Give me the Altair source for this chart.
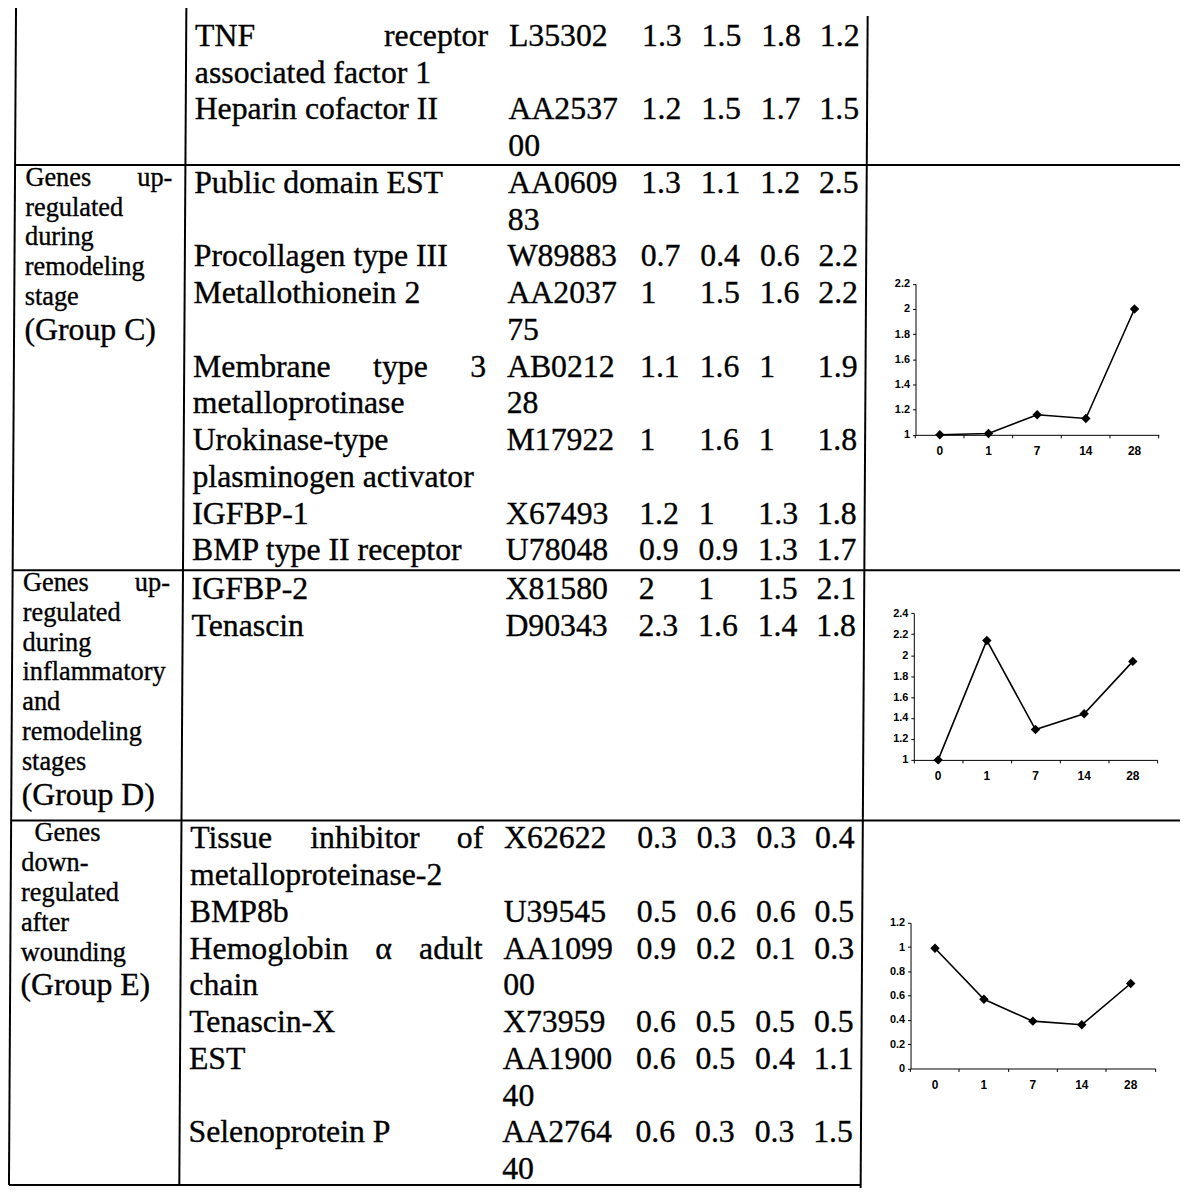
import altair as alt
import pandas as pd

# ---------------- data ----------------
top_gene = [["TNF receptor", "associated factor 1"], ["Heparin cofactor II"]]
top_acc = [["L35302"], ["AA2537", "00"]]
top_val = [[1.3, 1.5, 1.8, 1.2], [1.2, 1.5, 1.7, 1.5]]

c_label = ["Genes up-", "regulated", "during", "remodeling", "stage"]
c_group = "(Group C)"
c_gene = [["Public domain EST"], ["Procollagen type III"], ["Metallothionein 2"],
          ["Membrane type 3", "metalloprotinase"],
          ["Urokinase-type", "plasminogen activator"], ["IGFBP-1"],
          ["BMP type II receptor"]]
c_acc = [["AA0609", "83"], ["W89883"], ["AA2037", "75"], ["AB0212", "28"],
         ["M17922"], ["X67493"], ["U78048"]]
c_val = [[1.3, 1.1, 1.2, 2.5], [0.7, 0.4, 0.6, 2.2], [1, 1.5, 1.6, 2.2],
         [1.1, 1.6, 1, 1.9], [1, 1.6, 1, 1.8], [1.2, 1, 1.3, 1.8],
         [0.9, 0.9, 1.3, 1.7]]

d_label = ["Genes up-", "regulated", "during", "inflammatory", "and",
           "remodeling", "stages"]
d_group = "(Group D)"
d_gene = [["IGFBP-2"], ["Tenascin"]]
d_acc = [["X81580"], ["D90343"]]
d_val = [[2, 1, 1.5, 2.1], [2.3, 1.6, 1.4, 1.8]]

e_label = ["  Genes", "down-", "regulated", "after", "wounding"]
e_group = "(Group E)"
e_gene = [["Tissue inhibitor of", "metalloproteinase-2"], ["BMP8b"],
          ["Hemoglobin \u03b1 adult", "chain"], ["Tenascin-X"], ["EST"],
          ["Selenoprotein P"]]
e_acc = [["X62622"], ["U39545"], ["AA1099", "00"], ["X73959"],
         ["AA1900", "40"], ["AA2764", "40"]]
e_val = [[0.3, 0.3, 0.3, 0.4], [0.5, 0.6, 0.6, 0.5], [0.9, 0.2, 0.1, 0.3],
         [0.6, 0.5, 0.5, 0.5], [0.6, 0.5, 0.4, 1.1], [0.6, 0.3, 0.3, 1.5]]

days = ["0", "1", "7", "14", "28"]
c_profile = [1.0, 1.01, 1.16, 1.13, 2.0]
d_profile = [1.0, 2.14, 1.29, 1.44, 1.94]
e_profile = [0.99, 0.57, 0.39, 0.36, 0.70]
c_ticks = [1, 1.2, 1.4, 1.6, 1.8, 2, 2.2]
d_ticks = [1, 1.2, 1.4, 1.6, 1.8, 2, 2.2, 2.4]
e_ticks = [0, 0.2, 0.4, 0.6, 0.8, 1, 1.2]

# ---------------- layout (page pixels) ----------------
W, H = 1180, 1184
OFF = 8
MAIN_FS = 32
SMALL_FS = 26.5
PITCH = 37
SMALL_PITCH = 30
GROUP_GAP = 35
SKEW = -0.006          # the scan is slightly rotated

LBL_L, LBL_R = 23, 171
GENE_L, GENE_R = 193, 488
ACC_L = 509
VAL_L = [643, 703, 763, 822]
BORDERS = [12.5, 184, 870]
RIGHT_END = 1188
RULE_Y = [162, 570, 822]
BOTTOM_Y = 1189

TW = {}
for ch, w in zip("abcdefghijklmnopqrstuvwxyz",
                 [444, 500, 444, 500, 444, 333, 500, 500, 278, 278, 500, 278, 778,
                  500, 500, 500, 500, 333, 389, 278, 500, 500, 722, 500, 500, 444]):
    TW[ch] = w
for ch, w in zip("ABCDEFGHIJKLMNOPQRSTUVWXYZ",
                 [722, 667, 667, 722, 611, 556, 722, 722, 333, 389, 722, 611, 889,
                  722, 722, 556, 722, 667, 556, 611, 722, 722, 944, 722, 722, 611]):
    TW[ch] = w
TW.update({"-": 333, " ": 250, "(": 333, ")": 333, ".": 250, "\u03b1": 530})


def tw(s, fs):
    return sum(TW.get(ch, 500) for ch in s) * fs / 1000.0


def sx(x, y):
    return x + SKEW * (y - 600)


words = []


def place_line(text, left, right, y, fs, justify):
    lead = len(text) - len(text.lstrip(" "))
    text = text.strip()
    parts = text.split(" ")
    x0 = sx(left, y) + lead * 250 * fs / 1000.0
    if justify and len(parts) > 1:
        xr = sx(right, y)
        widths = [tw(p, fs) for p in parts]
        gap = (xr - x0 - sum(widths)) / (len(parts) - 1)
        x = x0
        for i, (p, wd) in enumerate(zip(parts, widths)):
            if i == len(parts) - 1:
                words.append(dict(x=xr, y=y, text=p, fs=fs, align="right"))
            else:
                words.append(dict(x=x, y=y, text=p, fs=fs, align="left"))
            x += wd + gap
    else:
        words.append(dict(x=x0, y=y, text=text, fs=fs, align="left"))


sections = [
    (42, None, None, top_gene, top_acc, top_val, None),
    (RULE_Y[0] + 28, c_label, c_group, c_gene, c_acc, c_val, RULE_Y[0] + 21),
    (RULE_Y[1] + 29, d_label, d_group, d_gene, d_acc, d_val, RULE_Y[1] + 21),
    (RULE_Y[2] + 28, e_label, e_group, e_gene, e_acc, e_val, RULE_Y[2] + 21),
]
for first, label, group, genes, accs, vals, lstart in sections:
    y = first
    for g, a, v in zip(genes, accs, vals):
        for i, line in enumerate(g):
            place_line(line, GENE_L, GENE_R, y + i * PITCH, MAIN_FS, i < len(g) - 1)
        for i, line in enumerate(a):
            place_line(line, ACC_L, None, y + i * PITCH, MAIN_FS, False)
        for j, val in enumerate(v):
            place_line(f"{val:g}", VAL_L[j], None, y, MAIN_FS, False)
        y += max(len(g), len(a)) * PITCH
    if label:
        ly = lstart
        for i, line in enumerate(label):
            place_line(line, LBL_L, LBL_R, ly, SMALL_FS, i < len(label) - 1)
            ly += SMALL_PITCH
        place_line(group, LBL_L, None, ly - SMALL_PITCH + GROUP_GAP, MAIN_FS, False)

wdf = pd.DataFrame(words)

rules = []
for ry in RULE_Y:
    rules.append(dict(x=sx(BORDERS[0], ry), y=ry, x2=RIGHT_END, y2=ry))
rules.append(dict(x=sx(BORDERS[0], BOTTOM_Y), y=BOTTOM_Y, x2=sx(BORDERS[2], BOTTOM_Y), y2=BOTTOM_Y))
for i, bx in enumerate(BORDERS):
    top = 12 if i == 2 else 0
    bot = 1192 if i == 2 else BOTTOM_Y
    rules.append(dict(x=sx(bx, top), y=top, x2=sx(bx, bot), y2=bot))
rdf = pd.DataFrame(rules)

XS = alt.Scale(domain=[OFF, OFF + W], range=[0, W], nice=False, zero=False)
YS = alt.Scale(domain=[OFF, OFF + H], range=[0, H], nice=False, zero=False)

rule_layer = alt.Chart(rdf).mark_rule(color="black", strokeWidth=2).encode(
    x=alt.X("x:Q", scale=XS, axis=None),
    y=alt.Y("y:Q", scale=YS, axis=None),
    x2="x2:Q",
    y2="y2:Q",
)


def text_layer(align):
    return alt.Chart(wdf[wdf["align"] == align]).mark_text(
        font="Liberation Serif", align=align, baseline="alphabetic", color="black",
        stroke="black", strokeWidth=0.35,
    ).encode(
        x=alt.X("x:Q", scale=XS, axis=None),
        y=alt.Y("y:Q", scale=YS, axis=None),
        text="text:N",
        size=alt.Size("fs:Q", scale=None),
    )


AX = dict(title=None, grid=False, domainColor="black", tickColor="black",
          labelColor="black", labelFont="Liberation Sans", labelFontWeight="bold",
          domainWidth=1, tickWidth=1, tickSize=3, labelOverlap=False)


def mini(values, ticks, x0, x1, ybot, ytop):
    df = pd.DataFrame({"day": days, "v": values})
    return alt.Chart(df).mark_line(
        color="black", strokeWidth=1.6,
        point=alt.OverlayMarkDef(shape="diamond", size=90, filled=True,
                                 color="black", opacity=1),
    ).encode(
        x=alt.X("day:O", sort=days,
                scale=alt.Scale(type="band", domain=days,
                                range=[x0 - OFF, x1 - OFF],
                                paddingInner=0, paddingOuter=0),
                axis=alt.Axis(orient="bottom", offset=(ybot - OFF) - H,
                              bandPosition=1, tickExtra=True, labelAngle=0,
                              labelFontSize=12, labelPadding=8, **AX)),
        y=alt.Y("v:Q",
                scale=alt.Scale(domain=[ticks[0], ticks[-1]],
                                range=[ybot - OFF, ytop - OFF],
                                nice=False, zero=False),
                axis=alt.Axis(orient="left", offset=-(x0 - OFF), values=ticks,
                              format="~g", labelFontSize=11, labelPadding=3,
                              **AX)),
    )


chart = alt.layer(
    rule_layer,
    text_layer("left"),
    text_layer("right"),
    mini(c_profile, c_ticks, 921.7, 1166.7, 433.7, 281.7),
    mini(d_profile, d_ticks, 920.0, 1165.0, 761.0, 613.3),
    mini(e_profile, e_ticks, 916.7, 1163.0, 1071.7, 925.0),
).resolve_scale(
    x="independent", y="independent"
).properties(
    width=W, height=H, padding=0,
    autosize=alt.AutoSizeParams(type="none"),
    background="white",
).configure_view(stroke=None)

chart.save("out.html", embed_options={"renderer": "svg", "actions": False})
